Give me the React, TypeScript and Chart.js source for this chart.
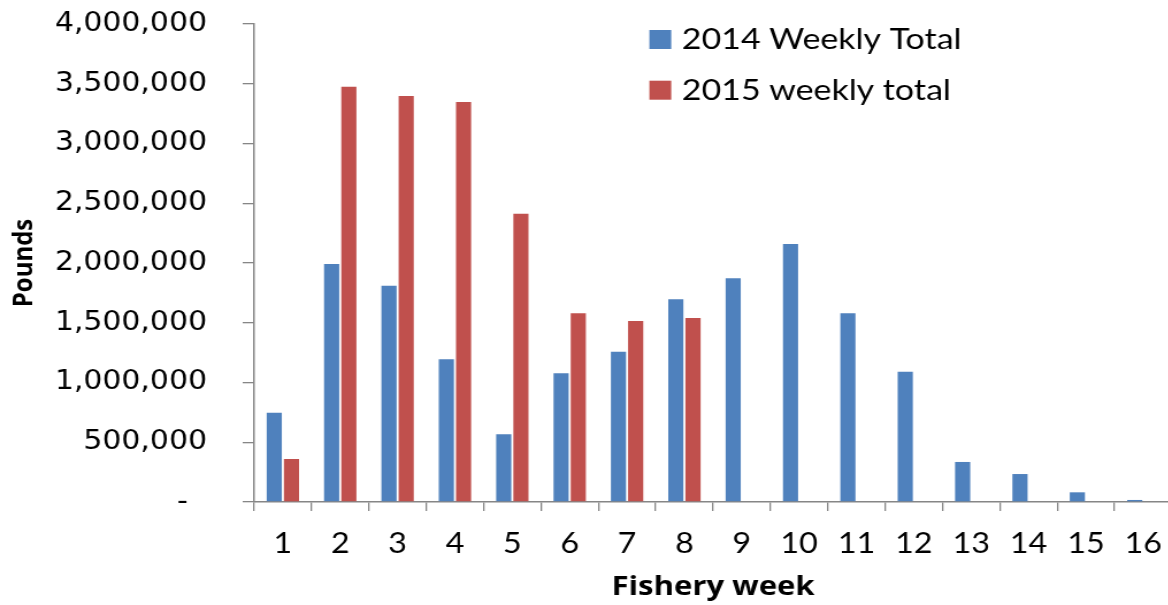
import React, { useEffect, useRef } from 'react';
import { Chart, registerables } from 'chart.js';

Chart.register(...registerables);

// ---- data ----
const weeks = ['1', '2', '3', '4', '5', '6', '7', '8', '9', '10', '11', '12', '13', '14', '15', '16'];
const label2014 = '2014 Weekly Total';
const label2015 = '2015 weekly total';
const pounds2014 = [747000, 1992000, 1810000, 1194000, 566000, 1077000, 1258000, 1696000, 1872000, 2159000, 1579000, 1091000, 335000, 234000, 81000, 17000];
const pounds2015 = [360000, 3475000, 3397000, 3347000, 2413000, 1579000, 1515000, 1540000, null, null, null, null, null, null, null, null];
const yMin = 0;
const yMax = 4000000;
const yStep = 500000;

// ---- layout (the reference is horizontally stretched) ----
const STRETCH = 1.15;
const CANVAS_W = 1019;
const CANVAS_H = 605;
const BLUE = '#4F81BD';
const RED = '#C0504D';
const AXIS = '#868686';

const insetLegend = {
  id: 'insetLegend',
  afterDraw(chart: any, _args: any, opts: any) {
    const ctx = chart.ctx as CanvasRenderingContext2D;
    const { left, top } = chart.chartArea;
    ctx.save();
    chart.data.datasets.forEach((ds: any, i: number) => {
      const y = top + opts.y0 + i * opts.rowGap;
      ctx.fillStyle = ds.backgroundColor;
      ctx.fillRect(left + opts.boxX, y, opts.box, opts.box);
      ctx.fillStyle = '#000';
      ctx.font = opts.font;
      ctx.textAlign = 'left';
      ctx.textBaseline = 'alphabetic';
      ctx.fillText(ds.label, left + opts.textX, y + opts.baseline);
    });
    ctx.restore();
  },
};

export default function App() {
  const ref = useRef<HTMLCanvasElement>(null);

  useEffect(() => {
    const chart = new Chart(ref.current as HTMLCanvasElement, {
      type: 'bar',
      data: {
        labels: weeks,
        datasets: [
          { label: label2014, data: pounds2014, backgroundColor: BLUE, borderWidth: 0 },
          { label: label2015, data: pounds2015 as any, backgroundColor: RED, borderWidth: 0 },
        ],
      },
      options: {
        responsive: false,
        animation: false,
        events: [],
        layout: { padding: { top: 24, left: 0, right: 0, bottom: 0 } },
        datasets: { bar: { categoryPercentage: 0.6, barPercentage: 0.88 } },
        plugins: {
          legend: { display: false },
          tooltip: { enabled: false },
          insetLegend: {
            boxX: 343.6,
            y0: 6,
            rowGap: 50.7,
            box: 19,
            textX: 371.8,
            baseline: 18.8,
            font: '29.5px Lato',
          },
        } as any,
        scales: {
          x: {
            ticks: {
              font: { family: 'Lato', size: 28 },
              color: '#000',
              padding: 16,
              autoSkip: false,
              maxRotation: 0,
            },
            grid: { drawOnChartArea: false, tickLength: 9, color: AXIS, lineWidth: 1.3, offset: true },
            border: { color: AXIS, width: 1.5 },
            title: {
              display: true,
              text: 'Fishery week',
              font: { family: 'Open Sans', size: 27, weight: 'bold' },
              color: '#000',
              padding: { top: 0, bottom: 1 },
            },
            afterFit: (s: any) => {
              s.height = 103;
              s.paddingLeft = 0;
              s.paddingRight = 0;
            },
          },
          y: {
            min: yMin,
            max: yMax,
            ticks: {
              stepSize: yStep,
              font: { family: 'DejaVu Sans', size: 26 },
              color: '#000',
              padding: 31,
              callback: (v: any) => (Number(v) === 0 ? '-  ' : Number(v).toLocaleString('en-US')),
            },
            grid: { drawOnChartArea: false, tickLength: 10, color: AXIS, lineWidth: 1.3 },
            border: { color: AXIS, width: 1.5 },
            title: {
              display: true,
              text: 'Pounds',
              font: { family: 'Open Sans', size: 24, weight: 'bold' },
              color: '#000',
              padding: { top: 7, bottom: 0 },
            },
            afterFit: (s: any) => {
              s.width = 221;
              s.paddingTop = 0;
              s.paddingBottom = 0;
            },
          },
        },
      },
      plugins: [insetLegend],
    });
    return () => chart.destroy();
  }, []);

  return (
    <div
      style={{
        position: 'fixed',
        left: 0,
        top: 0,
        width: 1168,
        height: 605,
        overflow: 'hidden',
        background: '#fff',
      }}
    >
      <canvas
        ref={ref}
        width={CANVAS_W}
        height={CANVAS_H}
        style={{ display: 'block', width: `${CANVAS_W * STRETCH}px`, height: `${CANVAS_H}px` }}
      />
    </div>
  );
}
